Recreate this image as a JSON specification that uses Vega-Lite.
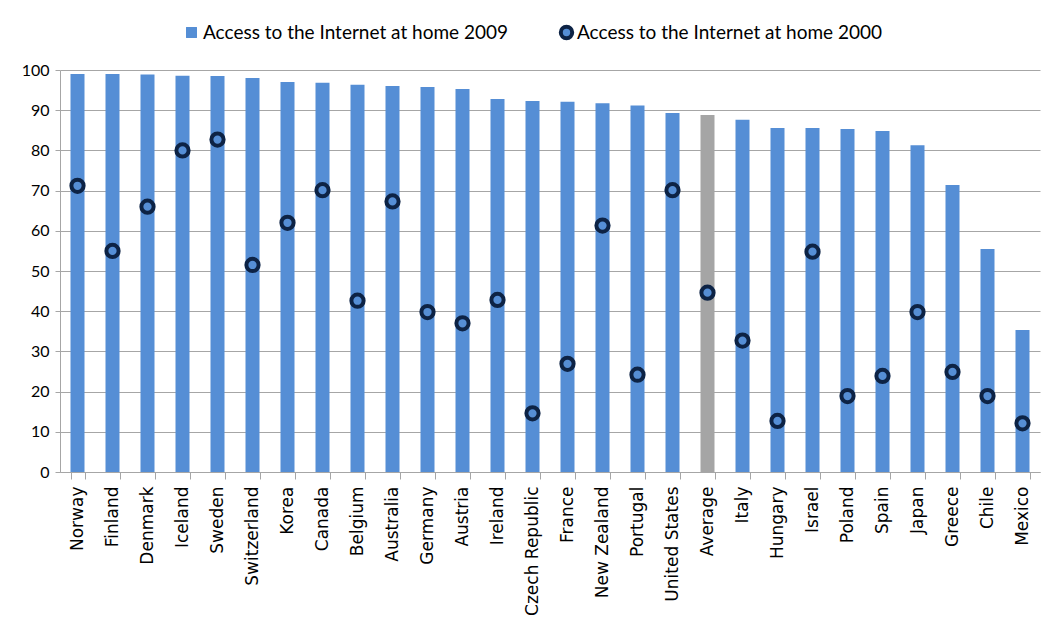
{
  "$schema": "https://vega.github.io/schema/vega-lite/v6.json",
  "autosize": {"type": "none"},
  "width": 980,
  "height": 402,
  "padding": {"left": 60, "top": 70, "right": 9, "bottom": 148},
  "background": "white",
  "data": {
    "values": [
      {"country": "Norway", "y2009": 99.0, "y2000": 71.2, "group": "Access to the Internet at home 2009"},
      {"country": "Finland", "y2009": 99.0, "y2000": 55.0, "group": "Access to the Internet at home 2009"},
      {"country": "Denmark", "y2009": 98.9, "y2000": 66.0, "group": "Access to the Internet at home 2009"},
      {"country": "Iceland", "y2009": 98.6, "y2000": 80.0, "group": "Access to the Internet at home 2009"},
      {"country": "Sweden", "y2009": 98.5, "y2000": 82.7, "group": "Access to the Internet at home 2009"},
      {"country": "Switzerland", "y2009": 98.0, "y2000": 51.5, "group": "Access to the Internet at home 2009"},
      {"country": "Korea", "y2009": 97.0, "y2000": 62.0, "group": "Access to the Internet at home 2009"},
      {"country": "Canada", "y2009": 96.8, "y2000": 70.1, "group": "Access to the Internet at home 2009"},
      {"country": "Belgium", "y2009": 96.3, "y2000": 42.6, "group": "Access to the Internet at home 2009"},
      {"country": "Australia", "y2009": 96.0, "y2000": 67.3, "group": "Access to the Internet at home 2009"},
      {"country": "Germany", "y2009": 95.8, "y2000": 39.8, "group": "Access to the Internet at home 2009"},
      {"country": "Austria", "y2009": 95.3, "y2000": 37.0, "group": "Access to the Internet at home 2009"},
      {"country": "Ireland", "y2009": 92.8, "y2000": 42.8, "group": "Access to the Internet at home 2009"},
      {"country": "Czech Republic", "y2009": 92.3, "y2000": 14.6, "group": "Access to the Internet at home 2009"},
      {"country": "France", "y2009": 92.1, "y2000": 26.9, "group": "Access to the Internet at home 2009"},
      {"country": "New Zealand", "y2009": 91.7, "y2000": 61.3, "group": "Access to the Internet at home 2009"},
      {"country": "Portugal", "y2009": 91.2, "y2000": 24.2, "group": "Access to the Internet at home 2009"},
      {"country": "United States", "y2009": 89.3, "y2000": 70.1, "group": "Access to the Internet at home 2009"},
      {"country": "Average", "y2009": 88.8, "y2000": 44.6, "group": "Average"},
      {"country": "Italy", "y2009": 87.6, "y2000": 32.7, "group": "Access to the Internet at home 2009"},
      {"country": "Hungary", "y2009": 85.6, "y2000": 12.7, "group": "Access to the Internet at home 2009"},
      {"country": "Israel", "y2009": 85.6, "y2000": 54.8, "group": "Access to the Internet at home 2009"},
      {"country": "Poland", "y2009": 85.3, "y2000": 18.9, "group": "Access to the Internet at home 2009"},
      {"country": "Spain", "y2009": 84.8, "y2000": 23.9, "group": "Access to the Internet at home 2009"},
      {"country": "Japan", "y2009": 81.3, "y2000": 39.8, "group": "Access to the Internet at home 2009"},
      {"country": "Greece", "y2009": 71.4, "y2000": 24.9, "group": "Access to the Internet at home 2009"},
      {"country": "Chile", "y2009": 55.5, "y2000": 18.9, "group": "Access to the Internet at home 2009"},
      {"country": "Mexico", "y2009": 35.3, "y2000": 12.1, "group": "Access to the Internet at home 2009"}
    ]
  },
  "encoding": {
    "x": {
      "field": "country",
      "type": "nominal",
      "sort": null,
      "scale": {"paddingInner": 0.6, "paddingOuter": 0.3},
      "axis": {
        "title": null,
        "labelAngle": -90,
        "labelFont": "DejaVu Sans",
        "labelFontSize": 17,
        "labelColor": "#000000",
        "labelPadding": 7,
        "labelLimit": 0,
        "tickBand": "extent",
        "tickSize": 7,
        "tickColor": "#a6a6a6",
        "domainColor": "#a6a6a6",
        "grid": false
      }
    }
  },
  "layer": [
    {
      "mark": {"type": "bar"},
      "encoding": {
        "y": {
          "field": "y2009",
          "type": "quantitative",
          "scale": {"domain": [0, 100], "nice": false},
          "axis": {
            "title": null,
            "values": [0, 10, 20, 30, 40, 50, 60, 70, 80, 90, 100],
            "labelFont": "Lato",
            "labelFontSize": 16,
            "labelColor": "#000000",
            "labelPadding": 6,
            "tickSize": 5,
            "tickColor": "#a6a6a6",
            "domainColor": "#a6a6a6",
            "gridColor": "#a6a6a6",
            "gridWidth": 1
          }
        },
        "color": {
          "field": "group",
          "type": "nominal",
          "scale": {"domain": ["Access to the Internet at home 2009", "Average"], "range": ["#558ED5", "#A5A5A5"]},
          "legend": {
            "values": ["Access to the Internet at home 2009"],
            "title": null,
            "orient": "none",
            "legendX": 122,
            "legendY": -47,
            "symbolType": "square",
            "symbolSize": 120,
            "labelFont": "Lato",
            "labelFontSize": 19,
            "labelLimit": 0,
            "labelColor": "#000000",
            "labelOffset": 2
          }
        }
      }
    },
    {
      "mark": {"type": "point", "shape": "circle", "filled": false, "fill": "#558ED5", "fillOpacity": 1, "strokeWidth": 4, "size": 150, "opacity": 1},
      "encoding": {
        "y": {"field": "y2000", "type": "quantitative"},
        "stroke": {
          "datum": "Access to the Internet at home 2000",
          "type": "nominal",
          "scale": {"range": ["#0D2345"]},
          "legend": {
            "title": null,
            "orient": "none",
            "legendX": 497,
            "legendY": -47,
            "symbolType": "circle",
            "symbolSize": 130,
            "symbolStrokeWidth": 4,
            "symbolFillColor": "#558ED5",
            "labelFont": "Lato",
            "labelFontSize": 19,
            "labelLimit": 0,
            "labelColor": "#000000",
            "labelOffset": 1
          }
        }
      }
    }
  ],
  "config": {
    "view": {"stroke": null}
  }
}
